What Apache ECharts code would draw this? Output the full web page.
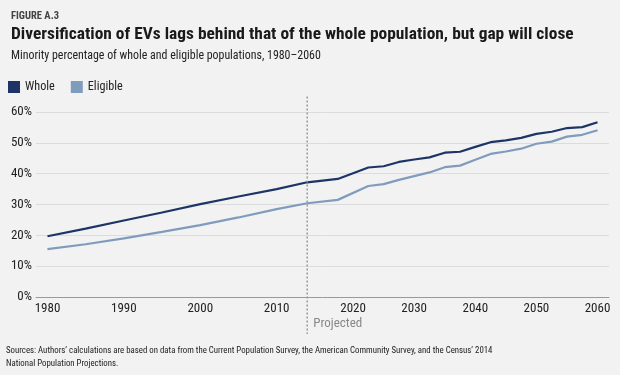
<!DOCTYPE html>
<html><head><meta charset="utf-8">
<script src="https://cdn.jsdelivr.net/npm/echarts@6/dist/echarts.min.js"></script>
<style>html,body{margin:0;padding:0;background:#f2f2f2;}#c{width:620px;height:375px;}</style>
</head><body><div id="c"></div>
<script>
// x categories (category slots as drawn on the original axis; blanks are edge padding)
var categories = [' ',
 '1980','1981','1982','1983','1984','1985','1986','1987','1988','1989',
 '1990','1991','1992','1993','1994','1995','1996','1997','1998','1999',
 '2000','2001','2002','2003','2004','2005','2006','2007','2008','2009',
 '2010','2011','2012','2013','2014','2015','2016','2017','2018','2019','2020',
 '2021.25','2022.5','2023.75','2025','2026.25','2027.5','2028.75','2030',
 '2031.25','2032.5','2033.75','2035','2036.25','2037.5','2038.75','2040',
 '2041.25','2042.5','2043.75','2045','2046.25','2047.5','2048.75','2050',
 '2051.25','2052.5','2053.75','2055','2056.25','2057.5','2058.75','2060',
 '  '];
var tickLabels = ['1980','1990','2000','2010','2020','2030','2040','2050','2060'];
var yTicks = [0, 10, 20, 30, 40, 50, 60];
var pointYears = ['1980','1985','1990','1995','2000','2005','2010','2014',
 '2018','2022.5','2025','2027.5','2030','2032.5','2035','2037.5','2040',
 '2042.5','2045','2047.5','2050','2052.5','2055','2057.5','2060'];
var whole = [19.7, 22.2, 24.8, 27.4, 30.1, 32.6, 35.0, 37.2,
 38.3, 42.0, 42.4, 43.8, 44.6, 45.3, 46.8, 47.1, 48.7,
 50.2, 50.8, 51.6, 52.9, 53.6, 54.8, 55.1, 56.7];
var eligible = [15.5, 17.1, 19.0, 21.1, 23.3, 25.8, 28.5, 30.4,
 31.5, 36.0, 36.6, 38.0, 39.2, 40.4, 42.1, 42.6, 44.5,
 46.4, 47.2, 48.1, 49.7, 50.4, 52.0, 52.6, 54.1];
var projectedStart = '2014';

var FONT = '"Roboto Condensed"';
function pairs(vals){ return pointYears.map(function(y,i){ return [y, vals[i]]; }); }

var chart = echarts.init(document.getElementById('c'), null, {renderer:'canvas'});
chart.setOption({
  backgroundColor: '#f2f2f2',
  animation: false,
  textStyle: {fontFamily: FONT},
  title: [
    {text: 'FIGURE A.3', left: 6, top: 6, textStyle: {fontFamily: FONT, fontSize: 10.5, fontWeight: 'bold', color: '#444'}},
    {text: 'Diversification of EVs lags behind that of the whole population, but gap will close', left: 6, top: 21,
     textStyle: {fontFamily: FONT, fontSize: 17.4, fontWeight: 'bold', color: '#1a1a1a'}},
    {text: 'Minority percentage of whole and eligible populations, 1980\u20132060', left: 6, top: 45,
     textStyle: {fontFamily: FONT, fontSize: 11.9, fontWeight: 'normal', color: '#222'}}
  ],
  legend: {
    left: 3, top: 76, icon: 'rect', itemWidth: 12, itemHeight: 12, itemGap: 16,
    textStyle: {fontFamily: FONT, fontSize: 12.2, color: '#222'},
    data: ['Whole', 'Eligible']
  },
  grid: {left: 36, right: 11, top: 112, bottom: 78, containLabel: false},
  xAxis: {
    type: 'category', data: categories, boundaryGap: true,
    axisLine: {lineStyle: {color: '#9a9a9a', width: 1}},
    axisTick: {show: false},
    axisLabel: {fontFamily: FONT, fontSize: 13, color: '#222', margin: 5,
      interval: function(i, v){ return tickLabels.indexOf(v) >= 0; }},
    splitLine: {show: false}
  },
  yAxis: {
    type: 'value', min: yTicks[0], max: yTicks[yTicks.length-1], interval: 10,
    axisLine: {show: false}, axisTick: {show: false},
    axisLabel: {fontFamily: FONT, fontSize: 13, color: '#222', margin: 4, formatter: '{value}%'},
    splitLine: {lineStyle: {color: '#dcdcdc', width: 1}}
  },
  series: [
    {name: 'Whole', type: 'line', data: pairs(whole), showSymbol: false, symbol: 'none',
     lineStyle: {color: '#1d3566', width: 2.2}, itemStyle: {color: '#1d3566'}, z: 3},
    {name: 'Eligible', type: 'line', data: pairs(eligible), showSymbol: false, symbol: 'none',
     lineStyle: {color: '#7f9cbd', width: 2.2}, itemStyle: {color: '#7f9cbd'}, z: 2}
  ]
});
var px = chart.convertToPixel({xAxisIndex: 0}, projectedStart);
var yTop = chart.convertToPixel({yAxisIndex: 0}, 65);
var yBot = chart.convertToPixel({yAxisIndex: 0}, -12);
chart.setOption({
  graphic: [
    {type: 'line', silent: true, z: 10, shape: {x1: px, y1: yTop, x2: px, y2: yBot},
     style: {stroke: '#9a9a9a', lineWidth: 1.5, lineDash: [2, 2]}},
    {type: 'text', left: px + 6, top: 317, style: {text: 'Projected', font: '13px ' + FONT, fill: '#888'}},
    {type: 'text', left: 6, top: 345, style: {
      text: 'Sources: Authors\u2019 calculations are based on data from the Current Population Survey, the American Community Survey, and the Census\u2019 2014\nNational Population Projections.',
      font: '8.8px ' + FONT, fill: '#222', lineHeight: 12.5}}
  ]
});
</script></body></html>
